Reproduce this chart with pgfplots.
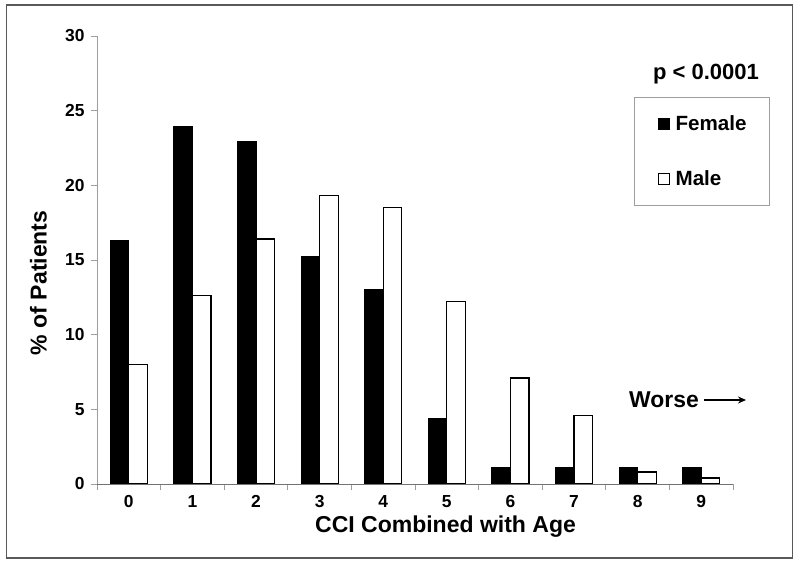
\documentclass[border=0pt]{standalone}
\usepackage{fontspec}
\setmainfont{Liberation Sans}
\usepackage{pgfplots}
\pgfplotsset{compat=1.18}
\usetikzlibrary{arrows.meta}
\definecolor{axgray}{gray}{0.62}
\definecolor{framegray}{gray}{0.35}
\begin{document}
\begin{tikzpicture}
\begin{axis}[
  at={(97bp,82bp)}, anchor=south west,
  scale only axis, width=636bp, height=448bp,
  xmin=-0.5, xmax=9.5, ymin=0, ymax=30,
  ybar=0pt, bar width=18.5bp,
  axis lines*=left,
  x axis line style={draw=black!55, line width=0.9bp, -},
  y axis line style={draw=axgray, line width=0.9bp, -},
  xtick={-0.5,0.5,...,9.5},
  xticklabels={0,1,2,3,4,5,6,7,8,9},
  x tick label as interval,
  ytick={0,5,10,15,20,25,30},
  tick align=outside, major tick length=6bp,
  tick style={draw=axgray, line width=0.8bp},
  /pgf/number format/assume math mode=true,
  tick label style={font=\fontsize{17.4bp}{20bp}\selectfont\bfseries},
  x tick label style={yshift=-2bp},
  y tick label style={xshift=-3bp},
  xlabel={CCI Combined with Age},
  ylabel={\% of Patients},
  every axis x label/.style={at={(rel axis cs:0.548,-0.109)}, anchor=base,
    font=\fontsize{23bp}{26bp}\selectfont\bfseries},
  every axis y label/.style={at={(rel axis cs:-0.092,0.449)}, anchor=center, rotate=90,
    font=\fontsize{23bp}{26bp}\selectfont\bfseries},
  legend style={draw=axgray, line width=0.8bp, at={(1.0582,0.8645)}, anchor=north east,
    inner xsep=23bp, inner ysep=18.5bp, row sep=38.5bp, column sep=6bp,
    font=\fontsize{20.6bp}{24bp}\selectfont\bfseries,
    nodes={inner sep=0pt, minimum height=15bp}, cells={anchor=west}},
  legend cell align=left,
]
\addplot[fill=black, draw=black, line width=1.2bp,
  legend image code/.code={\draw[fill=black, draw=black, line width=1bp] (0bp,-5.5bp) rectangle (11bp,5.5bp);}]
  coordinates {(0,16.3) (1,23.9) (2,22.9) (3,15.2) (4,13.0) (5,4.4) (6,1.1) (7,1.1) (8,1.1) (9,1.1)};
\addlegendentry{Female}
\addplot[fill=white, draw=black, line width=1.2bp,
  legend image code/.code={\draw[fill=white, draw=black, line width=1bp] (0bp,-5.5bp) rectangle (11bp,5.5bp);}]
  coordinates {(0,8.0) (1,12.6) (2,16.4) (3,19.3) (4,18.5) (5,12.2) (6,7.1) (7,4.6) (8,0.8) (9,0.4)};
\addlegendentry{Male}
\end{axis}
\node[font=\fontsize{22bp}{26bp}\selectfont\bfseries] at (706bp,492bp) {p < 0.0001};
\node[font=\fontsize{22.9bp}{26bp}\selectfont\bfseries] at (664bp,166bp) {Worse};
\draw[line width=1.3bp, -{Stealth[length=8bp,width=7bp]}] (704bp,166bp) -- (746bp,166bp);
\draw[framegray, line width=1.5bp] (6.7bp,8bp) rectangle (792.7bp,561bp);
\pgfresetboundingbox
\path (0,0) rectangle (800bp,566bp);
\end{tikzpicture}
\end{document}
